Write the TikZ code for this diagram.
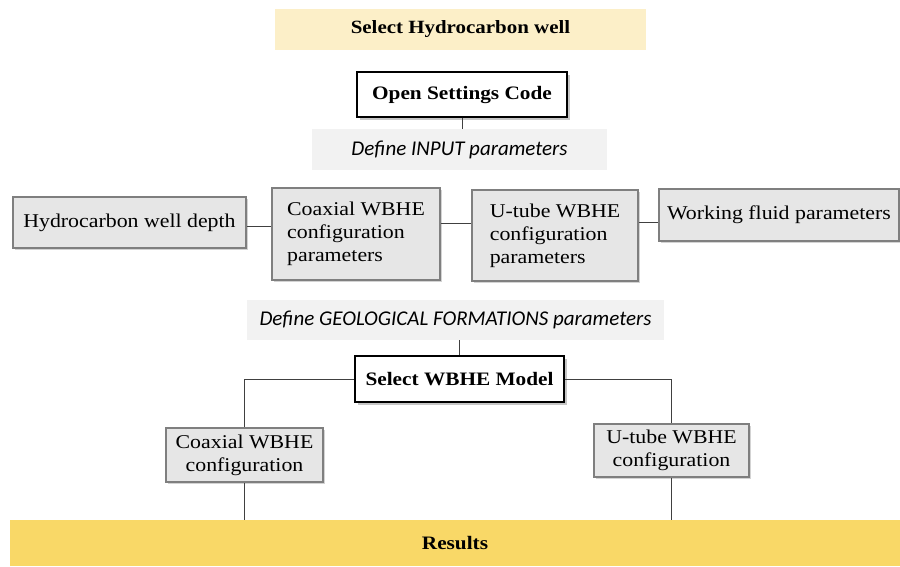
\documentclass[tikz,border=0pt]{standalone}
\usepackage{fontspec}
\setmainfont[FakeStretch=1.12]{Liberation Serif}
\newfontfamily\calib{Carlito}
\usetikzlibrary{shadows}
\definecolor{yellowlight}{HTML}{FCEFC8}
\definecolor{gold}{HTML}{F9D867}
\definecolor{boxgray}{HTML}{E6E6E6}
\definecolor{boxedge}{HTML}{7F7F7F}
\definecolor{bandgray}{HTML}{F2F2F2}
\definecolor{linegray}{HTML}{404040}
\tikzset{
  box/.style={draw=boxedge, line width=1.5pt, fill=boxgray, inner sep=0pt, align=center,
    font=\fontsize{19.5}{23}\selectfont,
    drop shadow={opacity=0.35, shadow xshift=1.5pt, shadow yshift=-1.5pt}},
  keybox/.style={draw=black, line width=1.6pt, fill=white, inner sep=0pt, align=center,
    font=\fontsize{19}{23}\selectfont\bfseries,
    drop shadow={opacity=0.45, shadow xshift=2.5pt, shadow yshift=-2.5pt}},
  band/.style={fill=bandgray, inner sep=0pt, align=center, font=\fontsize{21}{24}\selectfont\calib\itshape},
  conn/.style={draw=linegray, line width=0.8pt}
}
\begin{document}
\begin{tikzpicture}[x=1pt,y=-1pt]
\useasboundingbox (0,0) rectangle (900,566);
\node[fill=yellowlight, minimum width=371pt, minimum height=41pt, inner sep=0pt,
  font=\fontsize{18.7}{22}\selectfont\bfseries] (sel) at (460.5,29.5) {Select Hydrocarbon well};
\node[keybox, minimum width=210pt, minimum height=45pt] (osc) at (462,94.5) {Open Settings Code};
\node[band, minimum width=295pt, minimum height=41pt] (din) at (459.5,149.5) {Define INPUT parameters};
\node[box, minimum width=233pt, minimum height=51pt] (hwd) at (129.5,222.5) {Hydrocarbon well depth};
\node[box, align=left, minimum width=168pt, minimum height=92pt] (cwc) at (356,234) {Coaxial WBHE\\configuration\\parameters};
\node[box, align=left, minimum width=166pt, minimum height=91pt] (uwc) at (555,235.5) {U-tube WBHE\\configuration\\parameters};
\node[box, minimum width=240pt, minimum height=52pt] (wfp) at (779,215) {Working fluid parameters};
\node[band, minimum width=417pt, minimum height=40pt] (dgf) at (455.5,320) {Define GEOLOGICAL FORMATIONS parameters};
\node[keybox, minimum width=209pt, minimum height=46pt] (swm) at (459.5,379) {Select WBHE Model};
\node[box, minimum width=157pt, minimum height=54pt] (cc) at (244.5,455) {Coaxial WBHE\\configuration};
\node[box, minimum width=155pt, minimum height=53pt] (uc) at (671.5,450.5) {U-tube WBHE\\configuration};
\node[fill=gold, minimum width=890pt, minimum height=46pt, inner sep=0pt,
  font=\fontsize{19}{22}\selectfont\bfseries] (res) at (455,543) {Results};
\draw[conn] (osc.south) -- (osc.south |- din.north);
\draw[conn] (swm.north |- dgf.south) -- (swm.north);
\draw[conn] ([yshift=-4pt]hwd.east) -- ([yshift=-4pt]hwd.east -| cwc.west);
\draw[conn] ([yshift=11pt]cwc.east) -- ([yshift=11pt]cwc.east -| uwc.west);
\draw[conn] ([yshift=13.5pt]uwc.east) -- ([yshift=13.5pt]uwc.east -| wfp.west);
\draw[conn] (swm.west) -| (cc.north);
\draw[conn] (swm.east) -| (uc.north);
\draw[conn] (cc.south) -- (cc.south |- res.north);
\draw[conn] (uc.south) -- (uc.south |- res.north);
\end{tikzpicture}
\end{document}
